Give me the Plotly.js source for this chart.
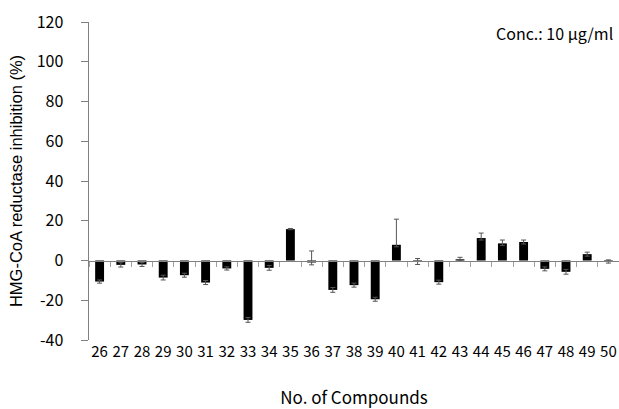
<!DOCTYPE html>
<html>
<head>
<meta charset="utf-8">
<script src="https://cdn.plot.ly/plotly-3.0.1.min.js"></script>
<style>html,body{margin:0;padding:0;background:#fff;}#chart{width:619px;height:409px;}</style>
</head>
<body>
<div id="chart"></div>
<script>
var compounds = ['26','27','28','29','30','31','32','33','34','35','36','37','38','39','40','41','42','43','44','45','46','47','48','49','50'];
var inhibition = [-10.6,-2.2,-2.0,-8.6,-7.4,-11.1,-4.0,-29.9,-3.7,15.8,-1.0,-14.8,-12.4,-19.5,7.9,-0.5,-10.9,0.6,11.3,8.6,9.3,-4.2,-5.7,3.2,-0.5];
var errPlus = [0.8,1.1,1.0,1.2,1.0,1.0,0.8,1.2,1.2,0.3,5.8,1.2,1.0,1.0,12.9,1.5,1.0,1.0,2.5,1.7,1.0,1.0,1.2,1.0,0.8];
var errMinus = [0.8,1.1,1.0,1.2,1.0,1.0,0.8,1.2,1.2,0.3,1.2,1.2,1.0,1.0,1.0,1.5,1.0,0.5,1.0,1.0,1.0,1.0,1.2,1.0,0.8];
var yTicks = [-40,-20,0,20,40,60,80,100,120];

var kr = '"Noto Sans CJK KR", "Noto Sans", sans-serif';

var trace = {
  type: 'bar',
  x: compounds,
  y: inhibition,
  marker: {color: '#000000', line: {width: 0}},
  error_y: {type: 'data', symmetric: false, array: errPlus, arrayminus: errMinus, color: '#555555', thickness: 1, width: 2.5},
  hoverinfo: 'x+y'
};
var axisTrace = {
  type: 'bar', x: compounds, y: compounds.map(function(){return 0;}), xaxis: 'x2', yaxis: 'y',
  showlegend: false, hoverinfo: 'skip', marker: {color: 'rgba(0,0,0,0)'}
};

var layout = {
  width: 619, height: 409,
  margin: {l: 89, r: 0, t: 22, b: 69},
  paper_bgcolor: '#fff', plot_bgcolor: '#fff',
  showlegend: false,
  bargap: 0.58,
  barmode: 'overlay',
  xaxis: {
    type: 'category', range: [-0.5, 24.5],
    showline: false, showgrid: false, zeroline: false, ticks: '',
    tickfont: {family: kr, size: 15, color: '#000'}, ticklabelstandoff: 1,
    title: {text: 'No. of Compounds', font: {family: kr, size: 17, color: '#000'}, standoff: 33}
  },
  xaxis2: {
    type: 'category', range: [-0.5, 24.5], overlaying: 'x', anchor: 'free', position: 0.25,
    showline: true, linecolor: '#808080', linewidth: 1.5,
    ticks: 'outside', tickson: 'boundaries', ticklen: 5, tickcolor: '#a0a0a0', tickwidth: 1,
    showticklabels: false, showgrid: false, zeroline: false
  },
  yaxis: {
    range: [-40, 120], tickvals: yTicks, ticktext: yTicks.map(String),
    showline: true, linecolor: '#808080', linewidth: 1.5,
    ticks: 'outside', ticklen: 7, tickcolor: '#808080', tickwidth: 1,
    showgrid: false, zeroline: false, ticklabelstandoff: 14,
    tickfont: {family: kr, size: 16, color: '#000'},
    title: {text: 'HMG-CoA reductase inhibition (%)', font: {family: '"Liberation Sans", Arial, sans-serif', size: 16.5, color: '#000'}, standoff: 10}
  },
  annotations: [{
    xref: 'paper', yref: 'paper', x: 0.992, y: 0.965, xanchor: 'right', yanchor: 'middle',
    text: 'Conc.: 10 \u03bcg/ml', showarrow: false,
    font: {family: kr, size: 16, color: '#000'}
  }]
};

Plotly.newPlot('chart', [trace, axisTrace], layout, {displayModeBar: false, staticPlot: true});
</script>
</body>
</html>
